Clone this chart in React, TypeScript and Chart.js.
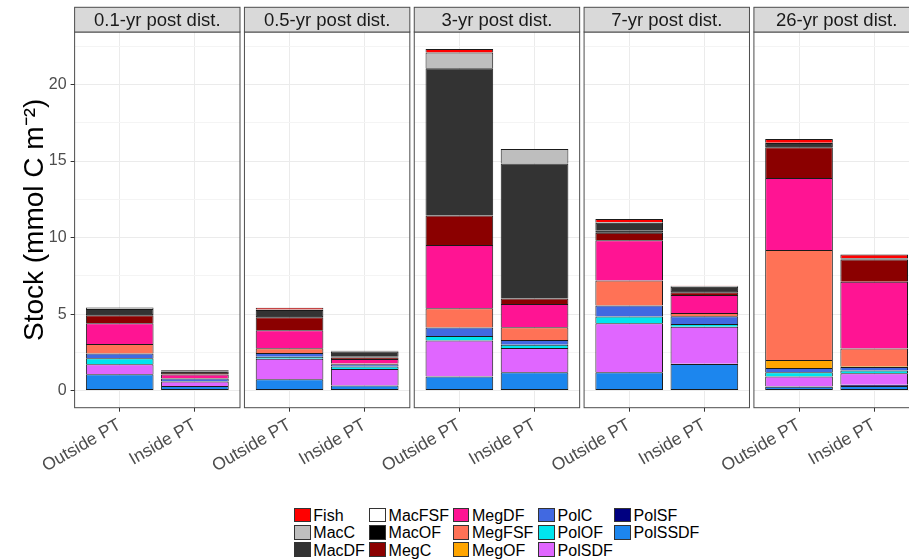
import React, { useEffect, useRef } from 'react';
import { Chart, registerables } from 'chart.js';

Chart.register(...registerables);

const FONT = '"Liberation Sans", Arial, Helvetica, sans-serif';

// ---- data -------------------------------------------------------------
const PANELS = ['0.1-yr post dist.', '0.5-yr post dist.', '3-yr post dist.', '7-yr post dist.', '26-yr post dist.'];
const SITES = ['Outside PT', 'Inside PT'];
// legend order (top of the stack first)
const GROUPS = ['Fish', 'MacC', 'MacDF', 'MacFSF', 'MacOF', 'MegC', 'MegDF', 'MegFSF', 'MegOF', 'PolC', 'PolOF', 'PolSDF', 'PolSF', 'PolSSDF'];
const GROUP_COLORS = ['#FF0000', '#BEBEBE', '#333333', '#FFFFFF', '#000000', '#8B0000', '#FF1493', '#FF7256', '#FFA500', '#4169E1', '#00E5EE', '#E066FF', '#000080', '#1C86EE'];

// values: [0.1yr Out, 0.1yr In, 0.5yr Out, 0.5yr In, 3yr Out, 3yr In, 7yr Out, 7yr In, 26yr Out, 26yr In]
const Fish    = [0.00, 0.02, 0.12, 0.00, 0.22, 0.00, 0.20, 0.02, 0.24, 0.24];
const MacC    = [0.10, 0.00, 0.03, 0.06, 1.03, 0.95, 0.05, 0.05, 0.02, 0.00];
const MacDF   = [0.32, 0.08, 0.40, 0.33, 9.60, 8.79, 0.53, 0.28, 0.20, 0.02];
const MacFSF  = [0.00, 0.00, 0.00, 0.00, 0.00, 0.00, 0.00, 0.00, 0.00, 0.00];
const MacOF   = [0.09, 0.10, 0.08, 0.05, 0.03, 0.03, 0.12, 0.08, 0.08, 0.07];
const MegC    = [0.52, 0.10, 0.85, 0.10, 1.92, 0.36, 0.50, 0.18, 2.00, 1.45];
const MegDF   = [1.35, 0.22, 1.17, 0.29, 4.14, 1.52, 2.63, 1.18, 4.71, 4.36];
const MegFSF  = [0.63, 0.04, 0.31, 0.06, 1.26, 0.83, 1.63, 0.21, 7.19, 1.16];
const MegOF   = [0.00, 0.00, 0.00, 0.00, 0.00, 0.00, 0.00, 0.00, 0.52, 0.06];
const PolC    = [0.31, 0.16, 0.24, 0.15, 0.55, 0.31, 0.72, 0.50, 0.28, 0.22];
const PolOF   = [0.39, 0.04, 0.13, 0.16, 0.30, 0.21, 0.44, 0.18, 0.28, 0.18];
const PolSDF  = [0.65, 0.29, 1.35, 1.08, 2.33, 1.57, 3.18, 2.42, 0.64, 0.76];
const PolSF   = [0.00, 0.00, 0.00, 0.00, 0.02, 0.02, 0.02, 0.02, 0.02, 0.08];
const PolSSDF = [1.07, 0.30, 0.74, 0.33, 0.92, 1.20, 1.20, 1.74, 0.26, 0.30];

const SERIES: Record<string, number[]> = {
  Fish, MacC, MacDF, MacFSF, MacOF, MegC, MegDF, MegFSF, MegOF, PolC, PolOF, PolSDF, PolSF, PolSSDF,
};

const Y_MAJOR = [0, 5, 10, 15, 20];
const Y_MINOR = [2.5, 7.5, 12.5, 17.5, 22.5];
const Y_TITLE = 'Stock (mmol C m\u207B\u00B2)';

// ---- layout constants ---------------------------------------------------
const PANEL_SPAN = [0.4, 2.6]; // discrete axis range with ggplot's 0.6 expansion
const GAP_UNITS = 0.059;        // spacing between facet panels, in axis units
const LABEL_ANGLE = 30;
const CANVAS_W = 926;
const CANVAS_H = 500;
const PANEL_BOTTOM = 407.7;
const STRIP_TOP = 7.3;
const PANEL_TOP = 32;
const LEGEND_COLS_X = [294, 369.3, 452.7, 538.3, 614.3];
const LEGEND_TOP = 507.7;
const LEGEND_ROW = 17.3;

const facetPlugin = {
  id: 'facets',
  beforeDatasetsDraw(chart: any) {
    const { ctx, chartArea } = chart;
    ctx.save();
    ctx.fillStyle = '#FFFFFF';
    for (let p = 0; p < PANELS.length - 1; p++) {
      const r = chart.scales['x' + p].getPixelForValue(PANEL_SPAN[1]);
      const l = chart.scales['x' + (p + 1)].getPixelForValue(PANEL_SPAN[0]);
      ctx.fillRect(r, chartArea.top - 1, l - r, chartArea.bottom - chartArea.top + 2);
    }
    ctx.restore();
  },
  afterDatasetsDraw(chart: any) {
    const { ctx, chartArea } = chart;
    ctx.save();
    PANELS.forEach((name, p) => {
      const sc = chart.scales['x' + p];
      const l = sc.getPixelForValue(PANEL_SPAN[0]);
      const r = sc.getPixelForValue(PANEL_SPAN[1]);
      ctx.lineWidth = 1;
      ctx.strokeStyle = '#4D4D4D';
      ctx.strokeRect(l, chartArea.top, r - l, chartArea.bottom - chartArea.top);
      ctx.fillStyle = '#D9D9D9';
      ctx.fillRect(l, STRIP_TOP, r - l, chartArea.top - STRIP_TOP);
      ctx.strokeRect(l, STRIP_TOP, r - l, chartArea.top - STRIP_TOP);
      ctx.fillStyle = '#1A1A1A';
      ctx.font = `18.5px ${FONT}`;
      ctx.textAlign = 'center';
      ctx.textBaseline = 'middle';
      ctx.fillText(name, (l + r) / 2, (STRIP_TOP + chartArea.top) / 2 + 1);
    });
    ctx.restore();
  },
};

export default function App() {
  const ref = useRef<HTMLCanvasElement>(null);

  useEffect(() => {
    const canvas = ref.current;
    if (!canvas) return;

    const totals: number[] = [];
    PANELS.forEach((_, p) => SITES.forEach((_, s) => {
      totals.push(GROUPS.reduce((acc, g) => acc + SERIES[g][p * 2 + s], 0));
    }));
    const maxTotal = Math.max(...totals);
    const pad = maxTotal * 0.05;

    const stackOrder = [...GROUPS].reverse();
    const datasets: any[] = [];
    PANELS.forEach((_, p) => {
      stackOrder.forEach((g, gi) => {
        datasets.push({
          label: g,
          xAxisID: 'x' + p,
          yAxisID: 'y',
          stack: 'stock',
          grouped: false,
          data: SITES.map((_, s) => ({ x: s + 1, y: SERIES[g][p * 2 + s] })),
          backgroundColor: GROUP_COLORS[GROUPS.indexOf(g)],
          borderColor: '#1A1A1A',
          borderWidth: 1,
          borderSkipped: gi === 0 ? false : 'start',
          barPercentage: 0.9,
          categoryPercentage: 1,
        });
      });
    });

    const scales: any = {};
    PANELS.forEach((_, p) => {
      const lo = p === 0 ? PANEL_SPAN[0] : PANEL_SPAN[0] - GAP_UNITS;
      scales['x' + p] = {
        type: 'linear',
        position: 'bottom',
        stack: 'panels',
        stackWeight: PANEL_SPAN[1] - lo,
        min: lo,
        max: PANEL_SPAN[1],
        offset: false,
        stacked: true,
        afterBuildTicks: (s: any) => { s.ticks = SITES.map((_, i) => ({ value: i + 1 })); },
        afterCalculateLabelRotation: (s: any) => { s.labelRotation = LABEL_ANGLE; },
        afterFit: (s: any) => { s.height = CANVAS_H - PANEL_BOTTOM; },
        ticks: {
          autoSkip: false,
          minRotation: LABEL_ANGLE,
          maxRotation: LABEL_ANGLE,
          padding: 3,
          color: '#4D4D4D',
          font: { family: FONT, size: 17.5 },
          callback: (v: number) => SITES[Math.round(v) - 1] ?? '',
        },
        grid: { offset: false, color: '#EBEBEB', lineWidth: 1, tickLength: 4, tickColor: '#333333', drawTicks: true },
        border: { display: false },
      };
    });
    scales.y = {
      type: 'linear',
      position: 'left',
      stacked: true,
      min: -pad,
      max: maxTotal + pad,
      afterBuildTicks: (s: any) => {
        s.ticks = [...Y_MAJOR, ...Y_MINOR].sort((a, b) => a - b).map((v) => ({ value: v }));
      },
      afterFit: (s: any) => { s.width = 72; },
      ticks: {
        padding: 4,
        color: '#4D4D4D',
        font: { family: FONT, size: 16 },
        callback: (v: number) => (Y_MAJOR.includes(v) ? String(v) : ''),
      },
      grid: {
        color: (c: any) => (Y_MAJOR.includes(c.tick?.value) ? '#EBEBEB' : '#F4F4F4'),
        tickColor: (c: any) => (Y_MAJOR.includes(c.tick?.value) ? '#333333' : 'rgba(0,0,0,0)'),
        lineWidth: 1,
        tickLength: 4,
      },
      border: { display: false },
      title: {
        display: true,
        text: Y_TITLE,
        color: '#000000',
        font: { family: FONT, size: 28 },
        padding: { top: 16, bottom: 0 },
      },
    };

    const chart = new Chart(canvas, {
      type: 'bar',
      data: { datasets },
      options: {
        animation: false,
        responsive: false,
        devicePixelRatio: 1,
        layout: { padding: { top: PANEL_TOP, right: CANVAS_W - 919.3, bottom: 0, left: 0 } },
        plugins: { legend: { display: false }, tooltip: { enabled: false } },
        scales,
      },
      plugins: [facetPlugin],
    } as any);

    return () => chart.destroy();
  }, []);

  return (
    <div style={{ position: 'fixed', left: 0, top: 0, width: 909, height: 559, overflow: 'hidden', background: '#FFFFFF' }}>
      <canvas ref={ref} width={CANVAS_W} height={CANVAS_H} style={{ position: 'absolute', left: 0, top: 0 }} />
      {GROUPS.map((g, i) => {
        const col = Math.floor(i / 3);
        const row = i % 3;
        const top = LEGEND_TOP + row * LEGEND_ROW;
        return (
          <div key={g} style={{ position: 'absolute', left: LEGEND_COLS_X[col], top, height: 15 }}>
            <div style={{
              position: 'absolute', left: 0, top: 0, width: 16.5, height: 14.5, boxSizing: 'border-box',
              background: GROUP_COLORS[i], border: '1px solid #333333',
            }} />
            <div style={{
              position: 'absolute', left: 19.3, top: -0.6, whiteSpace: 'nowrap',
              font: `16px ${FONT}`, lineHeight: '18px', color: '#000000',
            }}>{g}</div>
          </div>
        );
      })}
    </div>
  );
}
